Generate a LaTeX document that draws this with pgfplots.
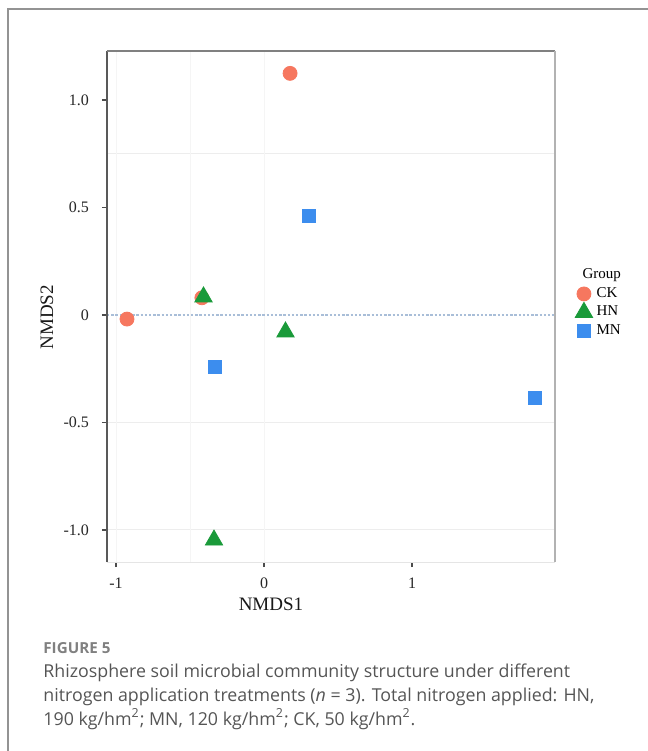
\documentclass[border=0pt]{standalone}
\usepackage{pgfplots}
\pgfplotsset{compat=1.18}
\usepackage{fontspec}
\setmainfont{Liberation Serif}
\newfontfamily\capfont{Open Sans}
\definecolor{ckcol}{HTML}{F6775F}
\definecolor{hncol}{HTML}{1A9A3A}
\definecolor{mncol}{HTML}{3C8DEE}
\definecolor{capgray}{HTML}{555555}
\definecolor{figgray}{HTML}{808080}
\definecolor{zerocol}{HTML}{A9BED8}
\begin{document}
\begin{tikzpicture}
\useasboundingbox (0,0) rectangle (324pt,-375.5pt);
% outer frame
\draw[color=gray!85, line width=0.8pt] (4pt,-376pt) -- (4pt,-4.5pt) -- (325pt,-4.5pt);
\begin{axis}[
  at={(53.5pt,-281pt)}, anchor=south west,
  scale only axis, width=224pt, height=255.5pt,
  xmin=-1.061, xmax=1.966, ymin=-1.149, ymax=1.228,
  axis line style={draw=none},
  tick pos=left, tick align=outside, major tick length=2.5pt,
  tick style={color=black!70, line width=0.6pt},
  xtick={-1,0,1}, xticklabels={-1,0,1},
  ytick={-1,-0.5,0,0.5,1}, yticklabels={-1.0,-0.5,0,0.5,1.0},
  ticklabel style={font=\fontsize{8}{9}\selectfont, text=black!85},
  xticklabel style={yshift=-2pt},
  yticklabel style={xshift=-3pt},
  xlabel={NMDS1}, ylabel={NMDS2},
  label style={font=\fontsize{9.5}{10}\selectfont, text=black!90},
  xlabel style={at={(axis description cs:0.366,0)}, anchor=base, yshift=-24pt},
  ylabel style={at={(axis description cs:-0.1205,0.479)}, anchor=base},
  legend style={at={(axis description cs:1.031,0.590)}, anchor=north west,
    draw=none, fill=none, font=\fontsize{7.5}{8}\selectfont, row sep=-1.2pt,
    nodes={inner xsep=2pt}},
  legend cell align=left,
  legend image code/.code={\draw[mark repeat=2,mark phase=2] plot coordinates {(0cm,0cm) (0.15cm,0cm) (0.3cm,0cm)};},
  clip=false,
]
% faint grid
\draw[gray!14, line width=0.5pt] (axis cs:-1.061,0.75) -- (axis cs:1.966,0.75);
\draw[gray!14, line width=0.5pt] (axis cs:-1.061,-0.5) -- (axis cs:1.966,-0.5);
\draw[gray!14, line width=0.5pt] (axis cs:-1.061,-1) -- (axis cs:1.966,-1);
\draw[gray!8, line width=0.5pt] (axis cs:-1,-1.149) -- (axis cs:-1,1.228);
\draw[gray!8, line width=0.5pt] (axis cs:-0.5,-1.149) -- (axis cs:-0.5,1.228);
\draw[gray!8, line width=0.5pt] (axis cs:0,-1.149) -- (axis cs:0,1.228);
% zero line
\draw[color=zerocol, dash pattern=on 1.2pt off 0.9pt, line width=0.6pt] (axis cs:-1.061,0) -- (axis cs:1.966,0);
% frame lines
\draw[black!65, line width=0.7pt] (rel axis cs:0,0) -- (rel axis cs:0,1);
\draw[black!50, line width=0.6pt] (rel axis cs:0,1) -- (rel axis cs:1,1);
\draw[black!30, line width=0.6pt] (rel axis cs:1,1) -- (rel axis cs:1,0);
\draw[black!10, line width=0.5pt] (rel axis cs:0,0) -- (rel axis cs:1,0);
\addlegendimage{empty legend}
\addlegendentry{\hspace*{-7pt}Group\rule[-4.3pt]{0pt}{4.3pt}}
\addplot[only marks, mark=*, mark size=3.5pt, color=ckcol, mark options={draw=ckcol, fill=ckcol}]
  coordinates {(0.176,1.124) (-0.926,-0.019) (-0.42,0.08)};
\addlegendentry{CK}
\addplot[only marks, mark=triangle*, mark size=5pt, color=hncol, mark options={draw=hncol, fill=hncol}]
  coordinates {(-0.409,0.084) (0.145,-0.079) (-0.338,-1.047)};
\addlegendentry{HN}
\addplot[only marks, mark=square*, mark size=3.25pt, color=mncol, mark options={draw=mncol, fill=mncol}]
  coordinates {(0.301,0.46) (-0.331,-0.242) (1.831,-0.386)};
\addlegendentry{MN}
\end{axis}
% caption
\node[anchor=base west, inner sep=0pt, font=\capfont\bfseries\fontsize{7.6}{8}\selectfont, text=figgray] at (21.5pt,-326.5pt) {FIGURE 5};
\node[anchor=base west, inner sep=0pt, font=\capfont\fontsize{8.9}{10}\selectfont, text=capgray] at (21.5pt,-338.5pt) {Rhizosphere soil microbial community structure under different};
\node[anchor=base west, inner sep=0pt, font=\capfont\fontsize{8.9}{10}\selectfont, text=capgray] at (21.5pt,-350.5pt) {nitrogen application treatments (\textit{n} = 3). Total nitrogen applied: HN,};
\node[anchor=base west, inner sep=0pt, font=\capfont\fontsize{8.9}{10}\selectfont, text=capgray] at (21.5pt,-362.5pt) {190 kg/hm\textsuperscript{2}; MN, 120 kg/hm\textsuperscript{2}; CK, 50 kg/hm\textsuperscript{2}.};
\end{tikzpicture}
\end{document}
